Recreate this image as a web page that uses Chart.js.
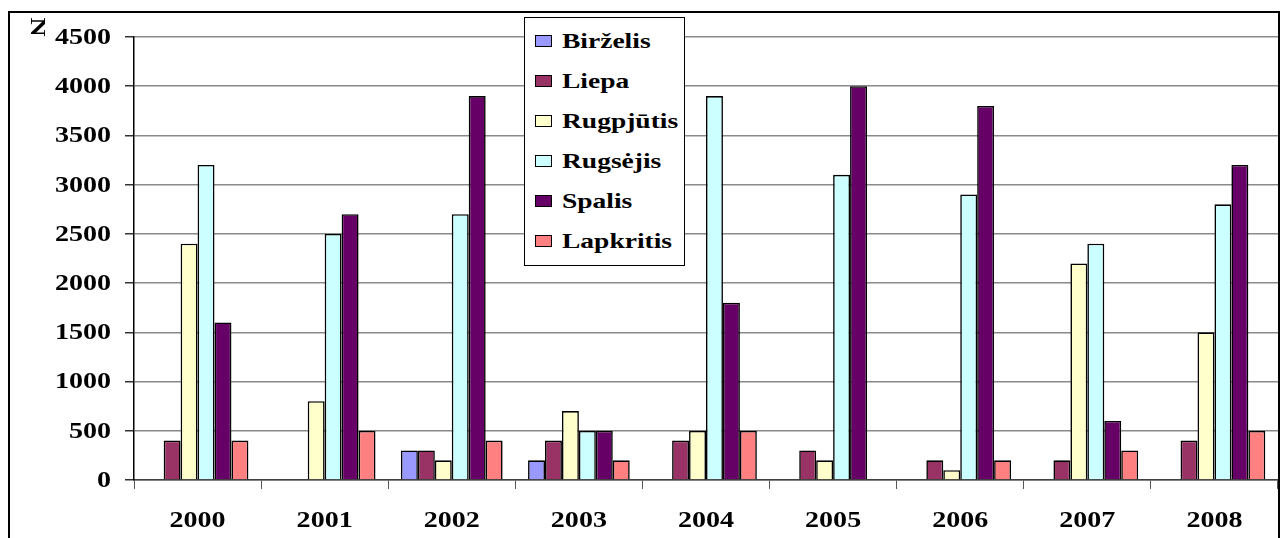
<!DOCTYPE html>
<html>
<head>
<meta charset="utf-8">
<script src="https://cdn.jsdelivr.net/npm/chart.js@4"></script>
<style>
    html, body { margin: 0; padding: 0; background: #fff; }
    #wrap { position: relative; width: 1285px; height: 538px; overflow: hidden; }
    #frame { position: absolute; left: 8px; top: 11px; width: 1268px; height: 600px; border: 2px solid #000; pointer-events: none; }
    #legend { position: absolute; left: 524px; top: 17px; width: 159px; height: 244px; border: 1px solid #000; background: #fff; padding-top: 3px; }
    #legend .row { height: 40px; display: flex; align-items: center; }
    #legend .box { width: 17px; height: 12px; margin-left: 10px; border: 1px solid #000; box-sizing: border-box; flex: none; }
    #legend .txt { margin-left: 10px; font: bold 22px "Liberation Serif", serif; transform: scaleX(1.25); transform-origin: left center; white-space: nowrap; }
</style>
</head>
<body>
<div id="wrap">
    <canvas id="myChart" width="1285" height="538"></canvas>
    <div id="frame"></div>
    <div id="legend"></div>
</div>
<script>
var years = ['2000', '2001', '2002', '2003', '2004', '2005', '2006', '2007', '2008'];
var yTicks = [0, 500, 1000, 1500, 2000, 2500, 3000, 3500, 4000, 4500];

// null = 그 해에는 막대 없음
var birzelis  = [null, null, 300, 200, null, null, null, null, null];
var liepa     = [400, null, 300, 400, 400, 300, 200, 200, 400];
var rugpjutis = [2400, 800, 200, 700, 500, 200, 100, 2200, 1500];
var rugsejis  = [3200, 2500, 2700, 500, 3900, 3100, 2900, 2400, 2800];
var spalis    = [1600, 2700, 3900, 500, 1800, 4000, 3800, 600, 3200];
var lapkritis = [400, 500, 400, 200, 500, null, 200, 300, 500];

var seriesNames = ['Birželis', 'Liepa', 'Rugpjūtis', 'Rugsėjis', 'Spalis', 'Lapkritis'];
var seriesData = [birzelis, liepa, rugpjutis, rugsejis, spalis, lapkritis];
var colors = ['#9999FF', '#993366', '#FFFFCC', '#CCFFFF', '#660066', '#FF8080'];

// 글자를 가로로 늘려서 그림 (엑셀 차트 느낌)
function stretchText(ctx, text, x, y, align, sx, rot) {
    ctx.save();
    ctx.translate(x, y);
    if (rot) ctx.rotate(rot);
    ctx.scale(sx, 1);
    ctx.textAlign = align;
    ctx.fillText(text, 0, 0);
    ctx.restore();
}

var labelPlugin = {
    id: 'labelPlugin',
    afterDraw: function (chart) {
        var ctx = chart.ctx;
        var xs = chart.scales.x, ys = chart.scales.y;
        ctx.save();
        ctx.fillStyle = '#000';
        ctx.font = 'bold 23px "Liberation Serif"';
        ctx.textBaseline = 'middle';
        ys.ticks.forEach(function (t, i) {
            stretchText(ctx, String(t.value), 111, ys.getPixelForTick(i) + 1, 'right', 1.22);
        });
        years.forEach(function (lbl, i) {
            stretchText(ctx, lbl, xs.getPixelForTick(i), 521, 'center', 1.22);
        });
        ctx.font = 'bold 22px "Liberation Serif"';
        stretchText(ctx, 'N', 37, 27, 'center', 1.2, Math.PI / 2);
        ctx.restore();
    }
};

var ctx = document.getElementById('myChart').getContext('2d');
var myChart = new Chart(ctx, {
    type: 'bar',
    data: {
        labels: years,
        datasets: seriesNames.map(function (name, i) {
            return {
                label: name,
                data: seriesData[i],
                backgroundColor: colors[i],
                borderColor: '#000',
                borderWidth: 1.6,
                borderSkipped: 'start',
                categoryPercentage: 0.8,
                barPercentage: 1.0
            };
        })
    },
    options: {
        responsive: false,
        animation: false,
        devicePixelRatio: 1,
        layout: { padding: { top: 37, right: 7, left: 0, bottom: 0 } },
        plugins: {
            legend: { display: false },
            tooltip: { enabled: false }
        },
        scales: {
            x: {
                offset: true,
                grid: { display: true, drawOnChartArea: false, offset: true, tickLength: 9, tickColor: '#555' },
                border: { color: '#404040', width: 1.5 },
                ticks: { display: false },
                afterFit: function (scale) { scale.height = 58; }
            },
            y: {
                min: 0,
                max: 4500,
                afterBuildTicks: function (scale) {
                    scale.ticks = yTicks.map(function (v) { return { value: v }; });
                },
                grid: { color: '#8a8a8a', lineWidth: 1.5, tickLength: 9, tickColor: '#333' },
                border: { color: '#000', width: 1.5 },
                ticks: { display: false },
                afterFit: function (scale) { scale.width = 134; }
            }
        }
    },
    plugins: [labelPlugin]
});

// 범례
var legendHtml = '';
for (var i = 0; i < seriesNames.length; i++) {
    legendHtml += '<div class="row"><span class="box" style="background:' + colors[i] + '"></span>' +
        '<span class="txt">' + seriesNames[i] + '</span></div>';
}
document.getElementById('legend').innerHTML = legendHtml;
</script>
</body>
</html>
